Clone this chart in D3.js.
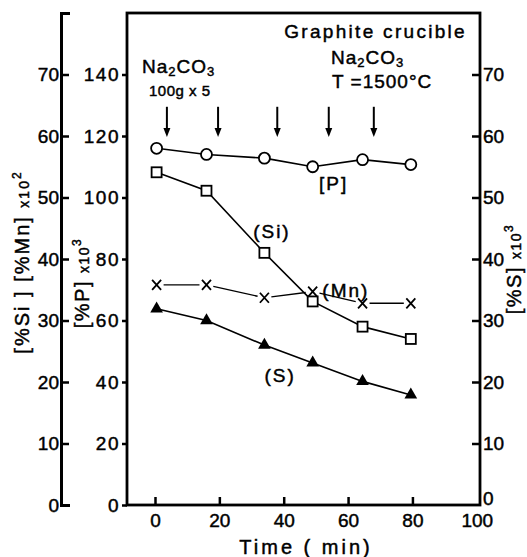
<!DOCTYPE html>
<html>
<head>
<meta charset="utf-8">
<script src="https://cdn.jsdelivr.net/npm/d3@7"></script>
<style>
  body { margin: 0; background: #fff; }
  text { font-family: "Liberation Sans", Arial, sans-serif; fill: #000; stroke: #000; stroke-width: 0.45px; }
</style>
</head>
<body>
<div id="chart"></div>
<script>
// time of each sample (min)
var times = [0.5, 16, 34, 49, 64.5, 79.5];
// [%P] x10^3 (inner left axis)
var pValues = [116, 114, 112.8, 110, 112.3, 110.7];
// [%Si] x10^2, [%Mn] x10^2 (outer left axis)
var siValues = [54.1, 51.1, 41.0, 33.1, 29.0, 27.0];
var mnValues = [35.8, 35.8, 33.7, 34.7, 32.8, 32.8];
// [%S] x10^3 (right axis)
var sValues = [31.9, 30.0, 26.0, 23.1, 20.1, 17.9];
// Na2CO3 additions (100 g each)
var arrowTimes = [3.7, 19.6, 38, 54, 68];

var xTicks = [0, 20, 40, 60, 80, 100];
var pTicks = [0, 20, 40, 60, 80, 100, 120, 140];
var pctTicks = [0, 10, 20, 30, 40, 50, 60, 70];

var width = 527;
var height = 557;

var svg = d3
  .select("#chart")
  .append("svg")
  .attr("width", width)
  .attr("height", height);

// Scales
var x = d3.scaleLinear().domain([-8.7, 101]).range([127, 480]);
var yP = d3.scaleLinear().domain([0, 160]).range([505, 13]);
var yL = d3.scaleLinear().domain([0, 80]).range([505, 13]);
var yS = d3.scaleLinear().domain([0, 80]).range([505, 13]);

function styleAxis(g) {
  g.selectAll("text")
    .attr("font-size", 19)
    .attr("font-family", "Liberation Sans, Arial, sans-serif")
    .attr("fill", "#000");
  g.selectAll("line").attr("stroke", "#000").attr("stroke-width", 2.5);
}

// outer left axis (Si, Mn)
var outer = svg
  .append("g")
  .attr("transform", "translate(61,0)")
  .call(
    d3.axisLeft(yL)
      .tickValues(pctTicks)
      .tickSizeInner(-8)
      .tickSizeOuter(-9)
      .tickPadding(2)
  );
styleAxis(outer);
outer.select(".domain").attr("stroke", "#000").attr("stroke-width", 3);

// inner left axis (P)
var pAxis = svg
  .append("g")
  .attr("transform", "translate(127,0)")
  .call(d3.axisLeft(yP).tickValues(pTicks).tickSize(5).tickPadding(2));
styleAxis(pAxis);
pAxis.select(".domain").remove();
pAxis.selectAll(".tick text").attr("letter-spacing", 1.5);

// right axis (S)
var sAxis = svg
  .append("g")
  .attr("transform", "translate(480,0)")
  .call(d3.axisRight(yS).tickValues(pctTicks).tickSize(-8).tickPadding(3));
styleAxis(sAxis);
sAxis.select(".domain").remove();
sAxis.selectAll(".tick").filter(d => d === 0).select("line").remove();
sAxis.selectAll(".tick").filter(d => d === 0).select("text").attr("dy", "-0.05em");

// x axis
var xAxis = svg
  .append("g")
  .attr("transform", "translate(0,505)")
  .call(d3.axisBottom(x).tickValues(xTicks).tickSize(-8).tickPadding(9));
styleAxis(xAxis);
xAxis.select(".domain").remove();
xAxis.selectAll(".tick").filter(d => d === 100).select("line").remove();

// frame
svg
  .append("rect")
  .attr("x", x.range()[0])
  .attr("y", yP.range()[1])
  .attr("width", x.range()[1] - x.range()[0])
  .attr("height", yP.range()[0] - yP.range()[1])
  .attr("fill", "none")
  .attr("stroke", "#000")
  .attr("stroke-width", 2.8);

// axis titles
var leftTitle = svg
  .append("text")
  .attr("transform", "translate(29,262) rotate(-90)")
  .attr("text-anchor", "middle")
  .attr("font-size", 20)
  .attr("letter-spacing", 2);
leftTitle.append("tspan").text("[%Si ] [%Mn] ");
leftTitle.append("tspan").attr("font-size", 14).text("x10");
leftTitle.append("tspan").attr("font-size", 12).attr("dy", -8).text("2");

var pTitle = svg
  .append("text")
  .attr("transform", "translate(89,283) rotate(-90)")
  .attr("text-anchor", "middle")
  .attr("font-size", 20)
  .attr("letter-spacing", 1.5);
pTitle.append("tspan").text("[%P] ");
pTitle.append("tspan").attr("font-size", 14).text("x10");
pTitle.append("tspan").attr("font-size", 12).attr("dy", -8).text("3");

var sTitle = svg
  .append("text")
  .attr("transform", "translate(521,269) rotate(-90)")
  .attr("text-anchor", "middle")
  .attr("font-size", 20)
  .attr("letter-spacing", 1.5);
sTitle.append("tspan").text("[%S] ");
sTitle.append("tspan").attr("font-size", 14).text("x10");
sTitle.append("tspan").attr("font-size", 12).attr("dy", -8).text("3");

svg
  .append("text")
  .attr("x", 306)
  .attr("y", 554)
  .attr("text-anchor", "middle")
  .attr("font-size", 20)
  .attr("letter-spacing", 3)
  .text("Time ( min)");

// annotations
svg
  .append("text")
  .attr("x", 467)
  .attr("y", 38)
  .attr("text-anchor", "end")
  .attr("font-size", 19)
  .attr("letter-spacing", 2.3)
  .text("Graphite  crucible");

function na2co3(xPos, yPos) {
  var t = svg
    .append("text")
    .attr("x", xPos)
    .attr("y", yPos)
    .attr("font-size", 19)
    .attr("letter-spacing", 1);
  t.append("tspan").text("Na");
  t.append("tspan").attr("font-size", 13).attr("dy", 3).text("2");
  t.append("tspan").attr("dy", -3).text("CO");
  t.append("tspan").attr("font-size", 13).attr("dy", 3).text("3");
}
na2co3(142, 73);
na2co3(331, 64);

svg
  .append("text")
  .attr("x", 149)
  .attr("y", 96)
  .attr("font-size", 15)
  .attr("letter-spacing", 0.5)
  .text("100g x 5");

svg
  .append("text")
  .attr("x", 332)
  .attr("y", 88)
  .attr("font-size", 19)
  .attr("letter-spacing", 1)
  .text("T =1500°C");

// arrows for Na2CO3 additions
var arrowTop = 129.5;
var arrowTip = 119.7;
svg
  .selectAll(".arrow-line")
  .data(arrowTimes)
  .enter()
  .append("line")
  .attr("x1", d => x(d))
  .attr("x2", d => x(d))
  .attr("y1", yP(arrowTop))
  .attr("y2", yP(arrowTip) - 6)
  .attr("stroke", "#000")
  .attr("stroke-width", 2);

svg
  .selectAll(".arrow-head")
  .data(arrowTimes)
  .enter()
  .append("path")
  .attr("d", function(d) {
    var cx = x(d);
    var ty = yP(arrowTip);
    return "M" + cx + "," + ty + "L" + (cx - 3.5) + "," + (ty - 9) + "L" + (cx + 3.5) + "," + (ty - 9) + "Z";
  })
  .attr("fill", "#000");

// series lines
function series(vals, scale) {
  return times.map((t, i) => ({ t: t, v: vals[i], px: x(t), py: scale(vals[i]) }));
}
var pData = series(pValues, yP);
var siData = series(siValues, yL);
var mnData = series(mnValues, yL);
var sData = series(sValues, yS);

var line = d3.line().x(d => d.px).y(d => d.py);

[pData, siData, sData].forEach(function(data) {
  svg
    .append("path")
    .datum(data)
    .attr("d", line)
    .attr("fill", "none")
    .attr("stroke", "#000")
    .attr("stroke-width", 1.6);
});

// Mn: segments that stop short of the x marks
var mnSegs = d3.pairs(mnData).map(function(p) {
  var dx = p[1].px - p[0].px;
  var dy = p[1].py - p[0].py;
  var len = Math.sqrt(dx * dx + dy * dy);
  var g = 7 / len;
  return [p[0].px + dx * g, p[0].py + dy * g, p[1].px - dx * g, p[1].py - dy * g];
});
svg
  .selectAll(".mn-seg")
  .data(mnSegs)
  .enter()
  .append("line")
  .attr("x1", d => d[0])
  .attr("y1", d => d[1])
  .attr("x2", d => d[2])
  .attr("y2", d => d[3])
  .attr("stroke", "#000")
  .attr("stroke-width", 1.4);

// markers
svg
  .selectAll(".p-pt")
  .data(pData)
  .enter()
  .append("circle")
  .attr("cx", d => d.px)
  .attr("cy", d => d.py)
  .attr("r", 5.5)
  .attr("fill", "#fff")
  .attr("stroke", "#000")
  .attr("stroke-width", 1.8);

svg
  .selectAll(".si-pt")
  .data(siData)
  .enter()
  .append("rect")
  .attr("x", d => d.px - 5)
  .attr("y", d => d.py - 5)
  .attr("width", 10)
  .attr("height", 10)
  .attr("fill", "#fff")
  .attr("stroke", "#000")
  .attr("stroke-width", 1.8);

svg
  .selectAll(".s-pt")
  .data(sData)
  .enter()
  .append("path")
  .attr("d", d3.symbol().type(d3.symbolTriangle).size(70))
  .attr("transform", d => "translate(" + d.px + "," + d.py + ")")
  .attr("fill", "#000");

svg
  .selectAll(".mn-pt")
  .data(mnData)
  .enter()
  .append("path")
  .attr("d", function(d) {
    return "M" + (d.px - 4.5) + "," + (d.py - 5) + "L" + (d.px + 4.5) + "," + (d.py + 5) +
      "M" + (d.px + 4.5) + "," + (d.py - 5) + "L" + (d.px - 4.5) + "," + (d.py + 5);
  })
  .attr("stroke", "#000")
  .attr("stroke-width", 1.8);

// series labels
var seriesLabels = [
  { text: "[P]", t: 51, v: 102.5, scale: yP },
  { text: "(Si)", t: 30.5, v: 43.4, scale: yL },
  { text: "(Mn)", t: 52, v: 33.8, scale: yL },
  { text: "(S)", t: 34, v: 20, scale: yS }
];
svg
  .selectAll(".series-label")
  .data(seriesLabels)
  .enter()
  .append("text")
  .attr("x", d => x(d.t))
  .attr("y", d => d.scale(d.v))
  .attr("font-size", 19)
  .attr("letter-spacing", 2)
  .text(d => d.text);
</script>
</body>
</html>
